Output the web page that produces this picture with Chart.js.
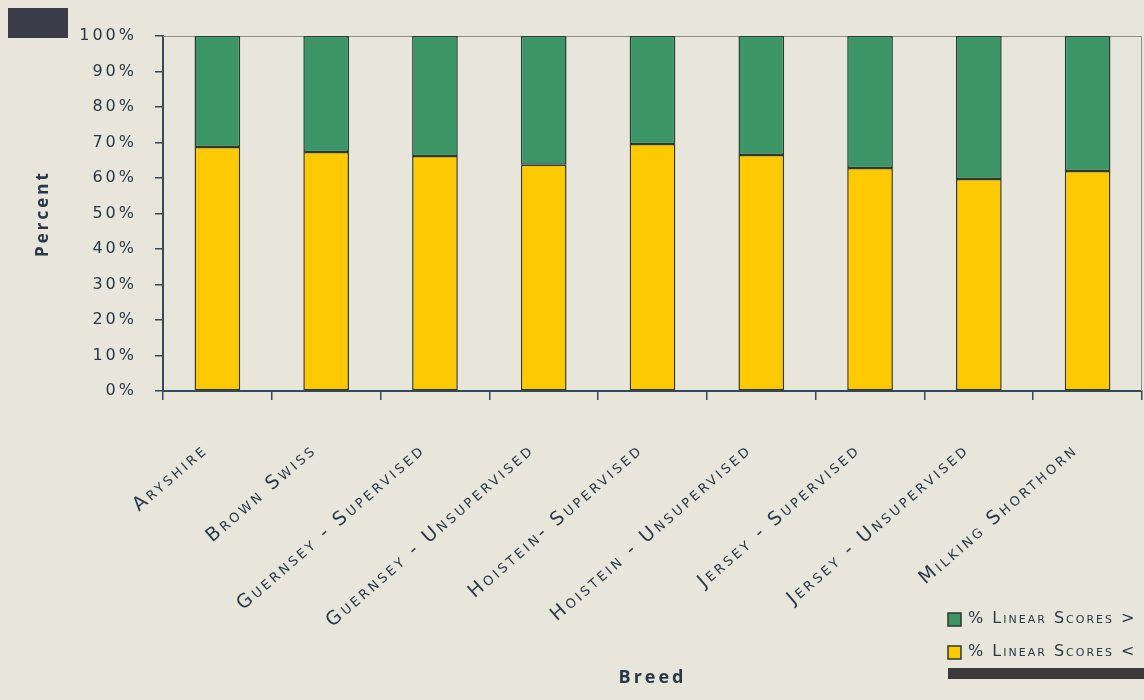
<!DOCTYPE html>
<html>
<head>
<meta charset="utf-8">
<script src="https://cdn.jsdelivr.net/npm/chart.js@4.4.1/dist/chart.umd.min.js"></script>
<style>
  html, body { margin: 0; padding: 0; background: #e8e6da; }
  #wrap { position: relative; width: 1144px; height: 700px; overflow: hidden; }
  #tag { position: absolute; left: 8px; top: 8px; width: 60px; height: 30px; background: #3b3b49; }
  #rule { position: absolute; left: 948px; top: 668px; width: 196px; height: 11px; background: #3a3a3a; }
</style>
</head>
<body>
<div id="wrap">
  <canvas id="chart" width="1144" height="700"></canvas>
  <div id="tag"></div>
  <div id="rule"></div>
</div>
<script>
const breeds = [
  'Aryshire',
  'Brown Swiss',
  'Guernsey - Supervised',
  'Guernsey - Unsupervised',
  'Hoistein- Supervised',
  'Hoistein - Unsupervised',
  'Jersey - Supervised',
  'Jersey - Unsupervised',
  'Milking Shorthorn'
];
// share of linear scores below / above the cut-off, in percent
const scoresBelow = [68.7, 67.3, 66.2, 63.7, 69.6, 66.5, 62.8, 59.7, 62.0];
const scoresAbove = [31.3, 32.7, 33.8, 36.3, 30.4, 33.5, 37.2, 40.3, 38.0];
const seriesNames = ['% Linear Scores < 80', '% Linear Scores > 80'];

const ink = '#27384a';
const axisInk = '#34495a';

// wide letter spacing like the original graphic
const spacing = {
    id: 'spacing',
    beforeLayout(chart) { chart.ctx.letterSpacing = '3px'; },
    beforeDraw(chart) { chart.ctx.letterSpacing = '3px'; }
};

// thin frame on top and right of the plot
const frame = {
    id: 'frame',
    beforeDatasetsDraw(chart) {
        const { ctx, chartArea: a } = chart;
        ctx.save();
        ctx.strokeStyle = '#8e8d86';
        ctx.lineWidth = 1;
        ctx.beginPath();
        ctx.moveTo(a.left, a.top + 0.5);
        ctx.lineTo(a.right - 0.5, a.top + 0.5);
        ctx.lineTo(a.right - 0.5, a.bottom);
        ctx.stroke();
        ctx.restore();
    }
};

// legend sitting in the lower right corner, cut by the edge
const cornerLegend = {
    id: 'cornerLegend',
    afterDraw(chart) {
        const ctx = chart.ctx;
        const order = [1, 0];
        ctx.save();
        ctx.font = 'small-caps 16px "DejaVu Sans"';
        ctx.letterSpacing = '2px';
        ctx.textBaseline = 'middle';
        order.forEach((di, row) => {
            const ds = chart.data.datasets[di];
            const y = 619 + row * 33;
            ctx.fillStyle = ds.backgroundColor;
            ctx.fillRect(948, y - 6, 13, 13);
            ctx.strokeStyle = '#2a3a2a';
            ctx.lineWidth = 1.5;
            ctx.strokeRect(948, y - 6, 13, 13);
            ctx.fillStyle = ink;
            ctx.fillText(ds.label, 968, y);
        });
        ctx.restore();
    }
};

new Chart(document.getElementById('chart').getContext('2d'), {
    type: 'bar',
    data: {
        labels: breeds,
        datasets: [{
            label: seriesNames[0],
            data: scoresBelow,
            backgroundColor: '#fdc900',
            borderColor: '#3b3a1c',
            borderWidth: 1.5,
            borderSkipped: false
        }, {
            label: seriesNames[1],
            data: scoresAbove,
            backgroundColor: '#3c9567',
            borderColor: '#1f3f36',
            borderWidth: 1.5,
            borderSkipped: false
        }]
    },
    options: {
        responsive: false,
        animation: false,
        layout: { padding: { left: 0, right: 2, top: 36, bottom: 0 } },
        datasets: { bar: { barPercentage: 0.42, categoryPercentage: 1 } },
        plugins: {
            legend: { display: false },
            tooltip: { enabled: false }
        },
        scales: {
            x: {
                stacked: true,
                grid: { offset: true, drawOnChartArea: false, tickLength: 9, color: axisInk, lineWidth: 1.5 },
                border: { color: axisInk, width: 2 },
                ticks: {
                    autoSkip: false,
                    minRotation: 41,
                    maxRotation: 41,
                    padding: 39,
                    labelOffset: -12,
                    color: ink,
                    font: { family: 'DejaVu Sans', size: 19, weight: 'small-caps' }
                },
                title: {
                    display: true,
                    text: 'Breed',
                    color: ink,
                    font: { family: 'Open Sans', size: 18, weight: 'bold' },
                    padding: { top: 0, bottom: 11 }
                },
                afterFit(scale) { scale.height = 309; }
            },
            y: {
                stacked: true,
                min: 0,
                max: 100,
                grid: { drawOnChartArea: false, tickLength: 8, color: axisInk, lineWidth: 1.5 },
                border: { color: axisInk, width: 2 },
                ticks: {
                    stepSize: 10,
                    padding: 18,
                    color: ink,
                    font: { family: 'DejaVu Sans', size: 16 },
                    callback: (value) => value + '%'
                },
                title: {
                    display: true,
                    text: 'Percent',
                    color: ink,
                    font: { family: 'Open Sans', size: 17, weight: 'bold' },
                    padding: { top: 33, bottom: 0 }
                },
                afterFit(scale) { scale.width = 163; }
            }
        }
    },
    plugins: [spacing, frame, cornerLegend]
});
</script>
</body>
</html>
